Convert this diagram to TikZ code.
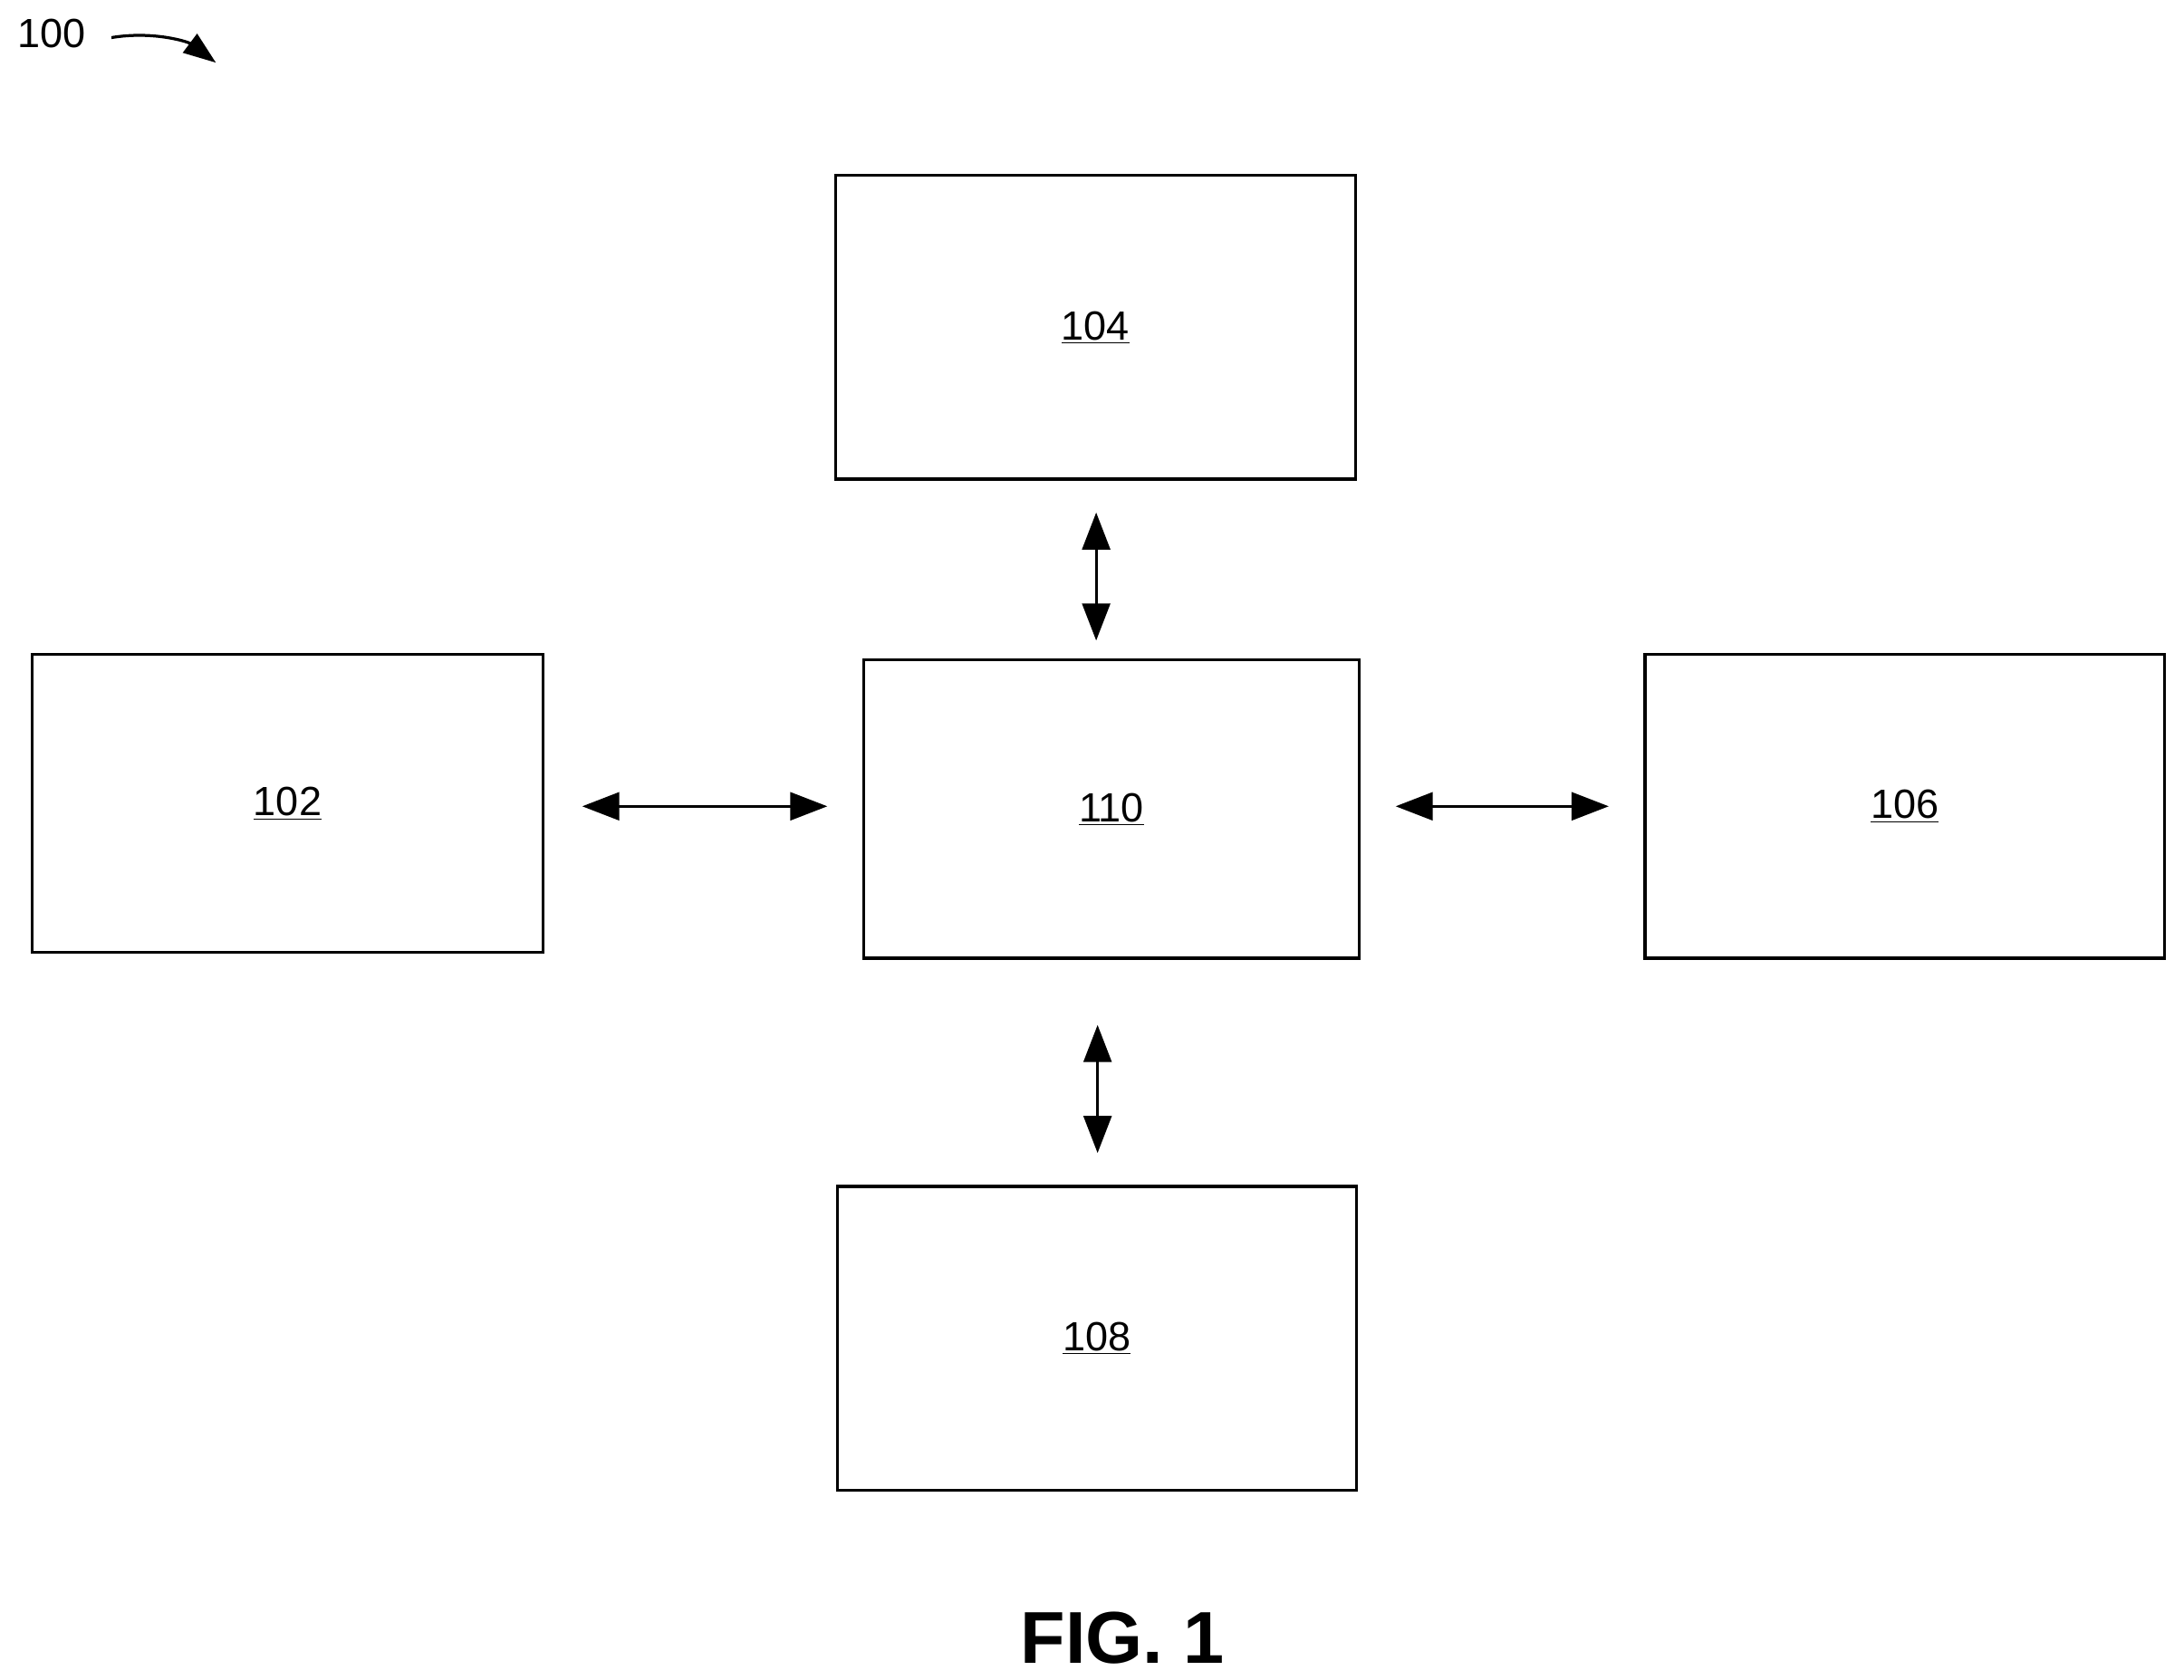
\documentclass[tikz,border=0pt]{standalone}
\usepackage{fontspec}
\setmainfont{Liberation Sans}
\usetikzlibrary{arrows.meta}
\begin{document}
\begin{tikzpicture}[x=0.03cm,y=-0.03cm,
 box/.style={draw,line width=1.8pt,inner sep=0},
 lbl/.style={font=\fontsize{25}{30}\selectfont},
 arr/.style={line width=1.8pt,{Triangle[length=0.8cm,width=0.6cm]}-{Triangle[length=0.8cm,width=0.6cm]}}]
\useasboundingbox (0,0) rectangle (1568,1206);
\node[box,minimum width=373*0.03cm,minimum height=218*0.03cm] (b104) at (786.5,235) {};
\node[box,minimum width=367*0.03cm,minimum height=214*0.03cm] (b102) at (206.5,577) {};
\node[box,minimum width=356*0.03cm,minimum height=214*0.03cm] (b110) at (798,581) {};
\node[box,minimum width=373*0.03cm,minimum height=218*0.03cm] (b106) at (1367.5,579) {};
\node[box,minimum width=373*0.03cm,minimum height=218*0.03cm] (b108) at (787.5,961) {};
\node[lbl] at (b104) {\underline{104}};
\node[lbl] at (b102) {\underline{102}};
\node[lbl] at (b110) {\underline{110}};
\node[lbl] at (b106) {\underline{106}};
\node[lbl] at (b108) {\underline{108}};
\coordinate (a1) at (787,368); \coordinate (a2) at (787,460);
\coordinate (a3) at (418,579); \coordinate (a4) at (594,579);
\coordinate (a5) at (1002,579); \coordinate (a6) at (1155,579);
\coordinate (a7) at (788,736); \coordinate (a8) at (788,828);
\draw[arr] (a1)--(a2);
\draw[arr] (a3)--(a4);
\draw[arr] (a5)--(a6);
\draw[arr] (a7)--(a8);
\node[lbl] (t100) at (37,24) {100};
\coordinate (c1) at (80,27); \coordinate (c2) at (155,45);
\draw[line width=1.8pt,-{Triangle[length=0.7cm,width=0.5cm]}] (c1) .. controls (110,22) and (135,30) .. (c2);
\node[font=\bfseries\fontsize{45}{54}\selectfont] (fig) at (806,1176) {FIG. 1};
\end{tikzpicture}
\end{document}
